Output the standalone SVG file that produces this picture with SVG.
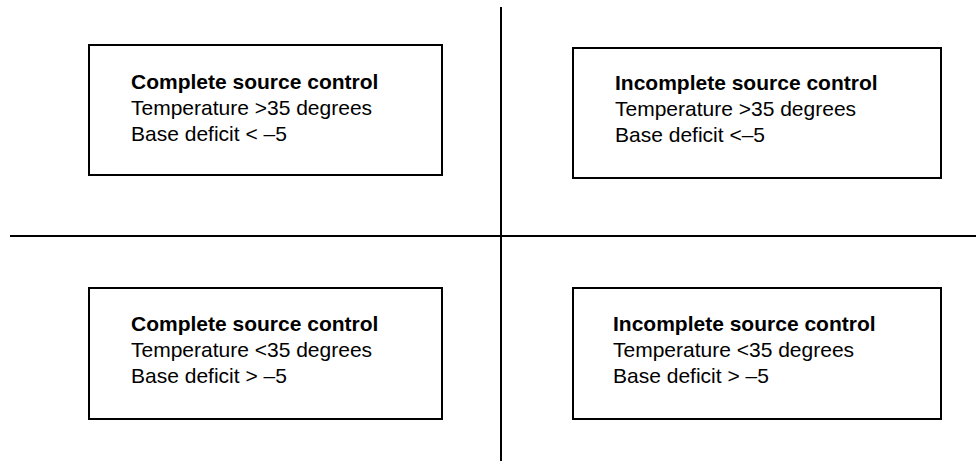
<svg xmlns="http://www.w3.org/2000/svg" width="976" height="461" viewBox="0 0 976 461">
<style>
.box{fill:#fff;stroke:#000;stroke-width:2}
.axis{stroke:#000;stroke-width:2;fill:none}
text{font-family:"Liberation Sans",Arial,sans-serif;font-size:21px;fill:#000}
.b{font-weight:bold}
</style>
<rect width="976" height="461" fill="#fff"/>
<g id="connectors">
<line class="axis" x1="501" y1="7" x2="501" y2="461"/>
<line class="axis" x1="10" y1="236" x2="976" y2="236"/>
</g>
<g id="node-tl">
<rect class="box" x="89" y="45" width="353" height="130"/>
<text x="131" y="89" class="b">Complete source control</text>
<text x="131" y="115">Temperature &gt;35 degrees</text>
<text x="131" y="141">Base deficit &lt; –5</text>
</g>
<g id="node-tr">
<rect class="box" x="573" y="48" width="368" height="130"/>
<text x="615" y="90" class="b">Incomplete source control</text>
<text x="615" y="116">Temperature &gt;35 degrees</text>
<text x="615" y="142">Base deficit &lt;–5</text>
</g>
<g id="node-bl">
<rect class="box" x="89" y="288" width="353" height="131"/>
<text x="131" y="331" class="b">Complete source control</text>
<text x="131" y="357">Temperature &lt;35 degrees</text>
<text x="131" y="383">Base deficit &gt; –5</text>
</g>
<g id="node-br">
<rect class="box" x="573" y="288" width="368" height="131"/>
<text x="613" y="331" class="b">Incomplete source control</text>
<text x="613" y="357">Temperature &lt;35 degrees</text>
<text x="613" y="383">Base deficit &gt; –5</text>
</g>
</svg>
